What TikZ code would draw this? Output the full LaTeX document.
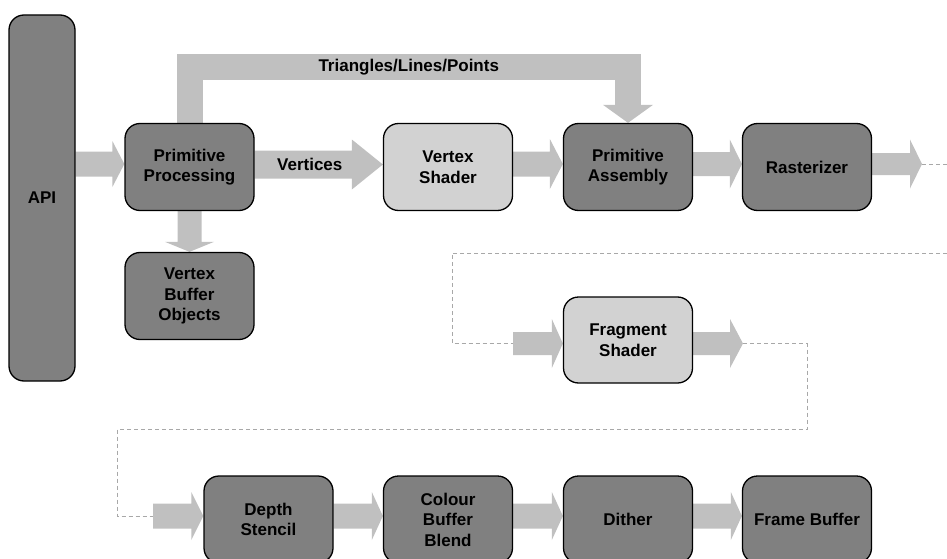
\documentclass[tikz,border=0pt]{standalone}
\usepackage{fontspec}
\setmainfont{Liberation Sans}
\usetikzlibrary{calc}

\definecolor{boxdark}{HTML}{808080}
\definecolor{boxlight}{HTML}{D2D2D2}
\definecolor{flowgray}{HTML}{C0C0C0}
\definecolor{dashgray}{HTML}{A8A8A8}

\pgfdeclarelayer{bg}
\pgfsetlayers{bg,main}

% Broad flow arrow: [vertical offset]{from}{to}{shaft half width}{head half width}{head length}
\newcommand\fatarrow[6][0]{%
  \path ($(#2)+(0,#1)$) coordinate (fa-a) ($(#3)+(0,#1)$) coordinate (fa-b);
  \path ($(fa-b)!#6!(fa-a)$) coordinate (fa-h);
  \fill[flowgray] ($(fa-a)!#4!90:(fa-b)$) -- ($(fa-h)!#4!90:(fa-b)$)
    -- ($(fa-h)!#5!90:(fa-b)$) -- (fa-b) -- ($(fa-h)!#5!-90:(fa-b)$)
    -- ($(fa-h)!#4!-90:(fa-b)$) -- ($(fa-a)!#4!-90:(fa-b)$) -- cycle;}

\tikzset{
  stage/.style={draw=black, line width=1.3pt, rounded corners=15pt,
    minimum width=129pt, minimum height=87pt, inner sep=2pt, align=center,
    fill=boxdark, text=black, font=\bfseries\fontsize{17}{20.5}\selectfont},
  lightstage/.style={stage, fill=boxlight},
  flowlabel/.style={text=black, align=center, inner sep=0pt,
    font=\bfseries\fontsize{17}{20.5}\selectfont},
  flowdash/.style={draw=dashgray, line width=0.8pt, dash pattern=on 4pt off 3pt},
  strip/.style={draw=flowgray, line width=26pt, line join=miter}
}

\begin{document}
\begin{tikzpicture}[x=1pt, y=-1pt]
\path[use as bounding box] (0,0) rectangle (947,559);
\clip (0,0) rectangle (947,559);

% pipeline stages
\node[stage, minimum width=66pt, minimum height=366pt] (api) at (42,198) {API};
\node[stage] (pp)  at (189.5,167) {Primitive\\Processing};
\node[stage] (vbo) at (189.5,296) {Vertex\\Buffer\\Objects};
\node[lightstage] (vs)  at (448,167) {Vertex\\Shader};
\node[stage] (pa)  at (628,167) {Primitive\\Assembly};
\node[stage] (ras) at (807,167) {Rasterizer};
\node[lightstage, minimum height=86pt] (fs) at (628,340) {Fragment\\Shader};
\node[stage] (ds)  at (268.5,519.5) {Depth\\Stencil};
\node[stage] (cbb) at (448,519.5) {Colour\\Buffer\\Blend};
\node[stage] (dit) at (628,519.5) {Dither};
\node[stage] (fb)  at (807,519.5) {Frame Buffer};

% free ends of the flow
\coordinate (ytop)    at (0,67);
\coordinate (rasout)  at (922,164);
\coordinate (edgeR)   at (947,164);
\coordinate (loopA)   at (947,253);
\coordinate (loopB)   at (452,253);
\coordinate (fsin)    at (513,343.5);
\coordinate (fsout)   at (743,343.5);
\coordinate (turnA)   at (807,429);
\coordinate (turnB)   at (117,429);
\coordinate (dsin)    at (153,516);

\begin{pgfonlayer}{bg}
  \fatarrow[-3]{api.east|-pp.west}{pp.west}{12.5pt}{23pt}{12pt}
  \fatarrow[-2.5]{pp.east}{vs.west}{14pt}{25pt}{31pt}
  \fatarrow[-3]{vs.east}{pa.west}{12.5pt}{25pt}{13pt}
  \fatarrow[-3]{pa.east}{ras.west}{12pt}{24.5pt}{12pt}
  \fatarrow{ras.east|-rasout}{rasout}{11pt}{24.5pt}{12pt}
  \fatarrow{pp.south}{vbo.north}{12pt}{24.5pt}{10pt}
  % primitives routed over the vertex shader
  \draw[strip] (pp.north) -- (pp.north|-ytop) -- (pa.north|-ytop) -- ($(pa.north)+(0,-18)$);
  \fatarrow{pa.north|-ytop}{pa.north}{12pt}{25pt}{18pt}
  \fatarrow{fsin}{fs.west|-fsin}{11.5pt}{24.5pt}{11pt}
  \fatarrow{fs.east|-fsout}{fsout}{11.5pt}{24.5pt}{13pt}
  \fatarrow{dsin}{ds.west|-dsin}{12.5pt}{24pt}{12pt}
  \fatarrow[-3.5]{ds.east}{cbb.west}{12.5pt}{24pt}{11pt}
  \fatarrow[-3.5]{cbb.east}{dit.west}{12.5pt}{24pt}{11pt}
  \fatarrow[-3.5]{dit.east}{fb.west}{12.5pt}{24pt}{11pt}
\end{pgfonlayer}

\node[flowlabel] (tlp) at ($(pp.north|-ytop)!0.5!(pa.north|-ytop)$) {Triangles/Lines/Points};
\node[flowlabel] (vtx) at ($(pp.east)!0.43!(vs.west)+(0,-3)$) {Vertices};

% dashed continuation lines
\draw[flowdash] (rasout) -- (edgeR);
\draw[flowdash] (loopA) -- (loopB) |- (fsin);
\draw[flowdash] (fsout) -| (turnA) -- (turnB) |- (dsin);
\end{tikzpicture}
\end{document}
